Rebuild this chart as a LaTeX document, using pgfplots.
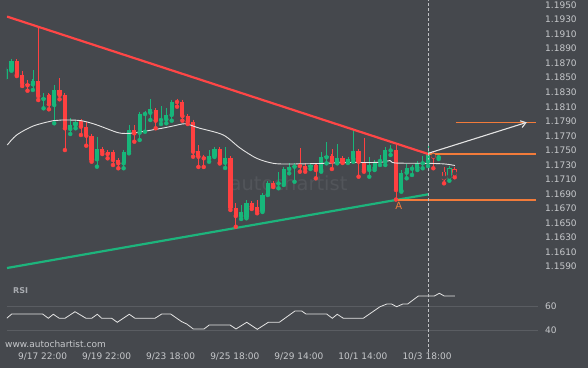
\documentclass[border=0pt]{standalone}
\usepackage{fontspec}
\setmainfont{DejaVu Sans}
\usepackage{pgfplots}
\usepackage{pgfplotstable}
\pgfplotsset{compat=1.18}
\usetikzlibrary{arrows.meta}
\definecolor{bg}{HTML}{45484D}
\definecolor{candG}{HTML}{17B67A}
\definecolor{candR}{HTML}{FF4040}
\definecolor{trR}{HTML}{FF4646}
\definecolor{trG}{HTML}{1DB47C}
\definecolor{org}{HTML}{F27B3A}
\definecolor{lbl}{HTML}{C6C8CB}
\definecolor{gridc}{HTML}{5A5D62}
\definecolor{wm}{HTML}{52555A}
\definecolor{smac}{HTML}{E4E4E4}
\definecolor{dashc}{HTML}{BFC1C4}
\definecolor{rsil}{HTML}{A8ABB0}
% columns: candle index, open, high, low, close
\pgfplotstableread{
i o h l c
0 1.18482 1.18630 1.18470 1.18620
1 1.18606 1.18744 1.18596 1.18734
5 1.18409 1.18606 1.18331 1.18455
7 1.18207 1.18285 1.18079 1.18225
9 1.18125 1.18400 1.17873 1.18331
12 1.17794 1.17942 1.17726 1.17849
13 1.17849 1.17918 1.17804 1.17895
17 1.17378 1.17688 1.17276 1.17519
22 1.17322 1.17482 1.17254 1.17482
23 1.17482 1.17849 1.17460 1.17781
25 1.17743 1.18010 1.17643 1.17997
26 1.18001 1.18019 1.17757 1.18019
27 1.18019 1.18203 1.17918 1.18065
29 1.17918 1.18111 1.17863 1.17928
30 1.17928 1.18079 1.17873 1.17987
31 1.17987 1.18193 1.17909 1.18170
38 1.17391 1.17505 1.17344 1.17423
39 1.17423 1.17529 1.17409 1.17515
41 1.17331 1.17551 1.17258 1.17391
44 1.16597 1.16749 1.16556 1.16653
45 1.16580 1.16818 1.16566 1.16780
48 1.16670 1.16910 1.16653 1.16886
49 1.16896 1.17065 1.16886 1.17047
51 1.17045 1.17207 1.16979 1.17056
52 1.17047 1.17276 1.17024 1.17244
53 1.17244 1.17322 1.17185 1.17276
54 1.17276 1.17322 1.17069 1.17285
57 1.17276 1.17322 1.17244 1.17299
59 1.17230 1.17482 1.17207 1.17413
60 1.17405 1.17620 1.17322 1.17423
62 1.17344 1.17584 1.17322 1.17391
64 1.17344 1.17413 1.17327 1.17382
65 1.17382 1.17781 1.17344 1.17492
68 1.17230 1.17413 1.17138 1.17299
69 1.17258 1.17368 1.17230 1.17344
70 1.17354 1.17437 1.17299 1.17368
71 1.17344 1.17551 1.17299 1.17505
72 1.17499 1.17574 1.17437 1.17512
74 1.16946 1.17230 1.16932 1.17193
75 1.17193 1.17309 1.17116 1.17254
76 1.17248 1.17299 1.17162 1.17258
77 1.17262 1.17354 1.17230 1.17331
78 1.17322 1.17423 1.17254 1.17344
79 1.17344 1.17598 1.17285 1.17446
81 1.17405 1.17437 1.17382 1.17413
}\tabG
\pgfplotstableread{
i o h l c
2 1.18730 1.18732 1.18523 1.18537
3 1.18537 1.18596 1.18386 1.18423
4 1.18413 1.18468 1.18321 1.18396
6 1.18455 1.19202 1.18193 1.18248
8 1.18262 1.18276 1.18065 1.18134
10 1.18331 1.18492 1.18203 1.18262
11 1.18262 1.18262 1.17505 1.17804
14 1.17904 1.17918 1.17712 1.17826
15 1.17826 1.17895 1.17565 1.17702
16 1.17702 1.17702 1.17344 1.17368
18 1.17519 1.17529 1.17450 1.17482
19 1.17474 1.17482 1.17391 1.17450
20 1.17482 1.17499 1.17299 1.17368
21 1.17368 1.17391 1.17254 1.17322
24 1.17781 1.17849 1.17620 1.17735
28 1.18056 1.18079 1.17804 1.17909
32 1.18184 1.18193 1.18101 1.18166
33 1.18170 1.18170 1.17909 1.17973
34 1.17973 1.17973 1.17863 1.17895
35 1.17895 1.17895 1.17413 1.17482
36 1.17492 1.17574 1.17272 1.17413
37 1.17413 1.17437 1.17272 1.17391
40 1.17515 1.17529 1.17320 1.17331
42 1.17391 1.17391 1.16680 1.16712
43 1.16712 1.16772 1.16450 1.16597
46 1.16772 1.16790 1.16694 1.16725
47 1.16725 1.16818 1.16635 1.16666
50 1.17047 1.17058 1.16996 1.17010
55 1.17299 1.17537 1.17207 1.17285
56 1.17285 1.17322 1.17207 1.17254
58 1.17299 1.17327 1.17116 1.17230
61 1.17423 1.17515 1.17244 1.17344
63 1.17391 1.17413 1.17327 1.17344
66 1.17492 1.17505 1.17138 1.17344
67 1.17322 1.17675 1.17207 1.17230
73 1.17505 1.17574 1.16824 1.16955
}\tabR
\pgfplotstableread{
i o h l c
80 1.17460 1.17478 1.17254 1.17413
82 1.17207 1.17276 1.17047 1.17116
84 1.17240 1.17276 1.17130 1.17175
}\tabHR
\pgfplotstableread{
i o h l c
83 1.17130 1.17285 1.17083 1.17254
}\tabHG
\pgfplotsset{
  wick/.style={#1, only marks, mark=none, error bars/.cd, y dir=plus, y explicit, error mark=none,
    error bar style={draw=#1, line width=0.7pt, solid}},
  body/.style 2 args={#1, only marks, mark=none, error bars/.cd, y dir=plus, y explicit, error mark=-,
    error mark options={draw=#1, line width=0.8pt, mark size=2.1pt},
    error bar style={draw=#1, line width=#2, line cap=butt, solid}},
  hbody/.style 2 args={#1, only marks, mark=none, error bars/.cd, y dir=plus, y explicit, error mark=none,
    error bar style={draw=#1, line width=#2, line cap=butt, solid}},
}
\begin{document}
\begin{tikzpicture}
\fill[bg] (0pt,0pt) rectangle (588pt,368pt);
% ---------- main price panel ----------
\begin{axis}[
  at={(7pt,92pt)}, anchor=south west, scale only axis,
  width=531pt, height=276pt,
  xmin=0.157, xmax=99.6, ymin=1.15772, ymax=1.19569,
  axis line style={draw=none}, major tick length=0pt,
  xtick=\empty,
  ytick={1.159,1.161,1.163,1.165,1.167,1.169,1.171,1.173,1.175,1.177,1.179,1.181,1.183,1.185,1.187,1.189,1.191,1.193,1.195},
  scaled y ticks=false,
  yticklabel pos=right,
  yticklabel style={anchor=west, inner sep=0pt, xshift=7pt, font=\fontsize{9}{10}\selectfont, text=lbl,
    /pgf/number format/.cd, fixed, fixed zerofill, precision=4, assume math mode=true},
]
\node[text=wm, font=\fontsize{19.5}{22}\selectfont] at (axis cs:52.87,1.17043) {autochartist};
% wicks
\addplot[wick=candG] table[x=i, y=l, y error expr={\thisrow{h}-\thisrow{l}}] {\tabG};
\addplot[wick=candR] table[x=i, y=l, y error expr={\thisrow{h}-\thisrow{l}}] {\tabR};
\addplot[wick=candR] table[x=i, y=l, y error expr={\thisrow{h}-\thisrow{l}}] {\tabHR};
\addplot[wick=candG] table[x=i, y=l, y error expr={\thisrow{h}-\thisrow{l}}] {\tabHG};
% bodies
\addplot[body={candG}{4.2pt}] table[x=i, y=o, y error expr={\thisrow{c}-\thisrow{o}}] {\tabG};
\addplot[body={candR}{4.2pt}] table[x=i, y=c, y error expr={\thisrow{o}-\thisrow{c}}] {\tabR};
% hollow (projected) candles
\addplot[hbody={candR}{4.6pt}] table[x=i, y=c, y error expr={\thisrow{o}-\thisrow{c}}] {\tabHR};
\addplot[hbody={bg}{2.9pt}] table[x=i, y expr={\thisrow{c}+0.00011}, y error expr={\thisrow{o}-\thisrow{c}-0.00022}] {\tabHR};
\addplot[hbody={candG}{4.6pt}] table[x=i, y=o, y error expr={\thisrow{c}-\thisrow{o}}] {\tabHG};
\addplot[hbody={bg}{2.9pt}] table[x=i, y expr={\thisrow{o}+0.00011}, y error expr={\thisrow{c}-\thisrow{o}-0.00022}] {\tabHG};
% moving average
\addplot[smac, line width=0.9pt, smooth, tension=0.5] coordinates {
 (0.21,1.17574) (1.97,1.17712) (5.08,1.17836) (8.83,1.17909) (10.40,1.17918)
 (13.83,1.17911) (16.64,1.17859) (20.38,1.17757) (21.64,1.17735) (23.19,1.17735)
 (25.38,1.17757) (29.13,1.17804) (31.30,1.17836) (33.49,1.17867) (35.36,1.17826)
 (36.30,1.17804) (40.66,1.17712) (43.79,1.17533) (46.92,1.17391) (50.03,1.17322)
 (53.15,1.17313) (58.77,1.17320) (63.83,1.17333) (70.01,1.17336) (71.88,1.17361)
 (72.82,1.17327) (79.00,1.17322) (82.18,1.17313) (84.05,1.17292)};
% trend lines
\addplot[trR, line width=2.2pt] coordinates {(0.157,1.19341) (79.05,1.17450)};
\addplot[trG, line width=2.2pt] coordinates {(0.157,1.15882) (79.05,1.16896)};
% levels
\addplot[org, line width=1.1pt] coordinates {(73.0,1.16818) (99.2,1.16818)};
\addplot[org, line width=1.1pt] coordinates {(79.05,1.17450) (99.2,1.17450)};
\addplot[org, line width=1.1pt] coordinates {(84.2,1.17886) (99.2,1.17886)};
% current time
\addplot[dashc, line width=0.8pt, dash pattern=on 3pt off 2pt] coordinates {(79.05,1.15772) (79.05,1.19569)};
% forecast arrow
\addplot[smac, line width=1.1pt, -{Straight Barb[length=5pt,width=7pt]}] coordinates {(79.05,1.17460) (97.5,1.17886)};
\node[text=org, font=\fontsize{10}{12}\selectfont] at (axis cs:73.55,1.16731) {A};
\end{axis}
% ---------- RSI panel ----------
\begin{axis}[
  at={(7pt,16pt)}, anchor=south west, scale only axis,
  width=531pt, height=76pt,
  xmin=0.157, xmax=99.6, ymin=22.14, ymax=84.69,
  axis line style={draw=none}, major tick length=0pt,
  ytick={40,60}, ymajorgrids, grid style={gridc, line width=0.8pt},
  yticklabel pos=right,
  yticklabel style={anchor=west, inner sep=0pt, xshift=7pt, font=\fontsize{9}{10}\selectfont, text=lbl,
    /pgf/number format/.cd, fixed, precision=0, assume math mode=true},
  xtick={7,19,31,43,55,67,79},
  xticklabels={9/17 22:00,9/19 22:00,9/23 18:00,9/25 18:00,9/29 14:00,10/1 14:00,10/3 18:00},
  xticklabel style={anchor=north, inner sep=0pt, yshift=-1pt, xshift=-1pt, font=\fontsize{9}{10}\selectfont, text=lbl},
]
\addplot[smac, line width=0.8pt] coordinates {
 (0.10,49.9) (1.04,53.4) (6.84,53.4) (7.89,49.9) (8.83,53.2) (9.95,49.9) (11.02,49.9)
 (12.89,55.3) (14.95,49.9) (16.02,49.9) (17.07,53.2) (17.89,49.9) (19.76,49.9) (20.81,46.6)
 (23.06,53.2) (24.13,49.9) (27.87,49.9) (29.13,53.4) (30.81,53.4) (32.87,47.1) (33.81,45.2)
 (35.04,41.1) (37.05,41.1) (38.04,44.4) (41.92,44.4) (43.04,41.1) (45.05,46.6) (47.03,40.8)
 (49.09,46.6) (51.15,46.6) (54.09,55.9) (55.34,55.9) (56.15,53.4) (60.03,53.4) (61.07,49.9)
 (62.01,53.2) (63.14,49.9) (66.88,49.9) (70.01,59.4) (71.26,61.6) (72.20,61.6) (73.13,59.4)
 (74.26,61.6) (75.19,61.6) (77.18,68.2) (80.18,68.2) (81.12,70.5) (82.05,68.2) (84.05,68.2)};
\addplot[dashc, line width=0.8pt, dash pattern=on 3pt off 2pt] coordinates {(79.05,22.14) (79.05,84.69)};
\end{axis}
\node[anchor=west, inner sep=0pt, text=rsil, font=\bfseries\fontsize{8}{9}\selectfont] at (13pt,77pt) {RSI};
\node[anchor=west, inner sep=0pt, text=lbl, font=\fontsize{9}{10}\selectfont] at (5pt,24pt) {www.autochartist.com};
\pgfresetboundingbox
\useasboundingbox (0pt,0pt) rectangle (588pt,368pt);
\end{tikzpicture}
\end{document}
